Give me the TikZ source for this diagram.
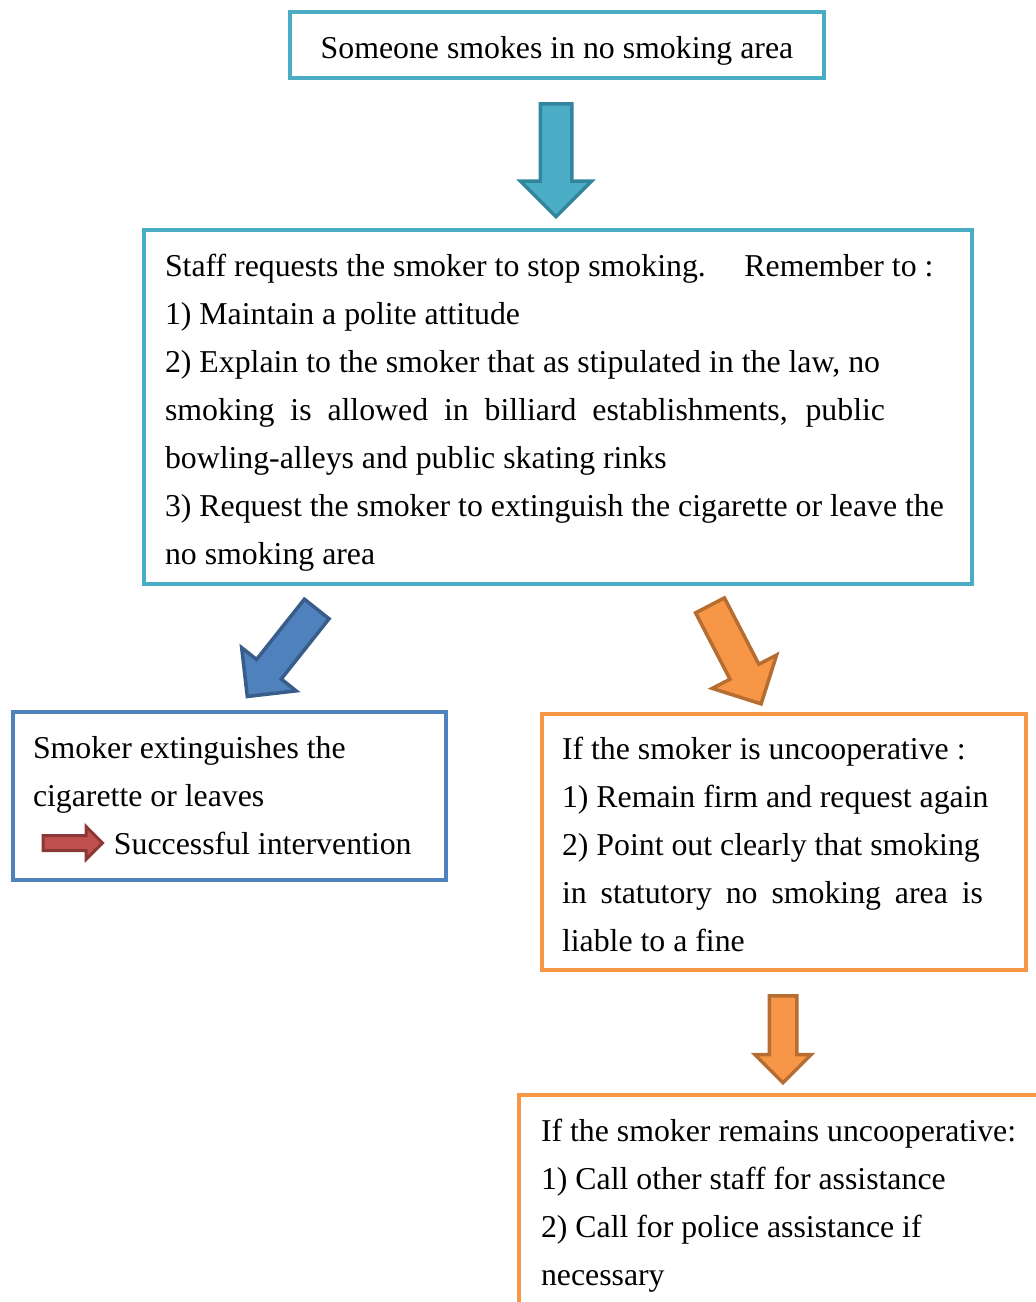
\documentclass[tikz,border=0pt]{standalone}
\usepackage{fontspec}
\setmainfont{Liberation Serif}
\usetikzlibrary{shapes.arrows}
\definecolor{tealbox}{HTML}{4BACC6}
\definecolor{tealdark}{HTML}{31859C}
\definecolor{bluebox}{HTML}{4F81BD}
\definecolor{bluedark}{HTML}{385D8A}
\definecolor{orangebox}{HTML}{F79646}
\definecolor{orangedark}{HTML}{B66D31}
\definecolor{redfill}{HTML}{C0504D}
\definecolor{reddark}{HTML}{8C3836}
\begin{document}
\begin{tikzpicture}[x=1pt,y=-1pt,
    every node/.style={font=\fontsize{31.8}{48}\selectfont},
    textbox/.style={draw=#1, line width=4pt, align=flush left, anchor=north west, inner ysep=0pt, outer sep=0pt},
    blockarrow/.style args={#1/#2/#3/#4/#5}{single arrow, draw=#1, fill=#2, line width=3.5pt,
        minimum height=#3, inner xsep=0pt, inner ysep=#4, single arrow head extend=#5,
        sloped, allow upside down, anchor=tail, pos=0}]
    \useasboundingbox (0,0) rectangle (1036,1302);
    \node [textbox=tealbox, minimum width=534pt, minimum height=66pt,
        text height=34pt, text depth=7pt] (smokes) at (290,12)
        {Someone smokes in no smoking area};
    \node [textbox=tealbox, minimum width=828pt, minimum height=354pt, inner xsep=21pt, text width=786pt] (request) at (144,230)
        {\rule{0pt}{34pt}Staff requests the smoker to stop smoking.\hspace{28pt} Remember to :\\
         1) Maintain a polite attitude\\
         2) Explain to the smoker that as stipulated in the law, no\\
         \makebox[720pt][s]{smoking is allowed in billiard establishments, public}\\
         bowling-alleys and public skating rinks\\
         3) Request the smoker to extinguish the cigarette or leave the\\
         no smoking area};
    \node [textbox=bluebox, minimum width=433pt, minimum height=168pt, inner xsep=20pt, text width=393pt] (success) at (13,712)
        {Smoker extinguishes the\\
         cigarette or leaves\\
         \hspace*{81pt}Successful intervention};
    \node [textbox=orangebox, minimum width=484pt, minimum height=256pt, inner xsep=20pt, text width=444pt] (uncoop) at (542,714)
        {\rule{0pt}{27pt}If the smoker is uncooperative :\\
         1) Remain firm and request again\\
         2) Point out clearly that smoking\\
         \makebox[421pt][s]{in statutory no smoking area is}\\
         liable to a fine};
    \node [textbox=orangebox, minimum width=600pt, minimum height=216pt, inner xsep=22pt, text width=556pt] (remains) at (519,1095)
        {\rule{0pt}{28pt}If the smoker remains uncooperative:\\
         1) Call other staff for assistance\\
         2) Call for police assistance if\\
         necessary};
    \coordinate (a1s) at (556,102);
    \coordinate (a1e) at (556,215);
    \coordinate (a2s) at (317.8,607.6);
    \coordinate (a2e) at (248.4,695.1);
    \coordinate (a3s) at (709.2,603.8);
    \coordinate (a3e) at (760.4,702.5);
    \coordinate (a4s) at (783,994);
    \coordinate (a4e) at (783,1081);
    \coordinate (a5s) at (41.5,843);
    \coordinate (a5e) at (101,843);
    \path (a1s) -- (a1e) node [blockarrow={tealdark/tealbox/113pt/14pt/20pt}] (down1) {};
    \path (a2s) -- (a2e) node [blockarrow={bluedark/bluebox/111.7pt/14pt/19pt}] (left1) {};
    \path (a3s) -- (a3e) node [blockarrow={orangedark/orangebox/111pt/14.5pt/20pt}] (right1) {};
    \path (a4s) -- (a4e) node [blockarrow={orangedark/orangebox/87pt/12pt/14.5pt}] (down2) {};
    \path (a5s) -- (a5e) node [blockarrow={reddark/redfill/59.5pt/6pt/9pt}, line width=3pt] (result) {};
\end{tikzpicture}
\end{document}
